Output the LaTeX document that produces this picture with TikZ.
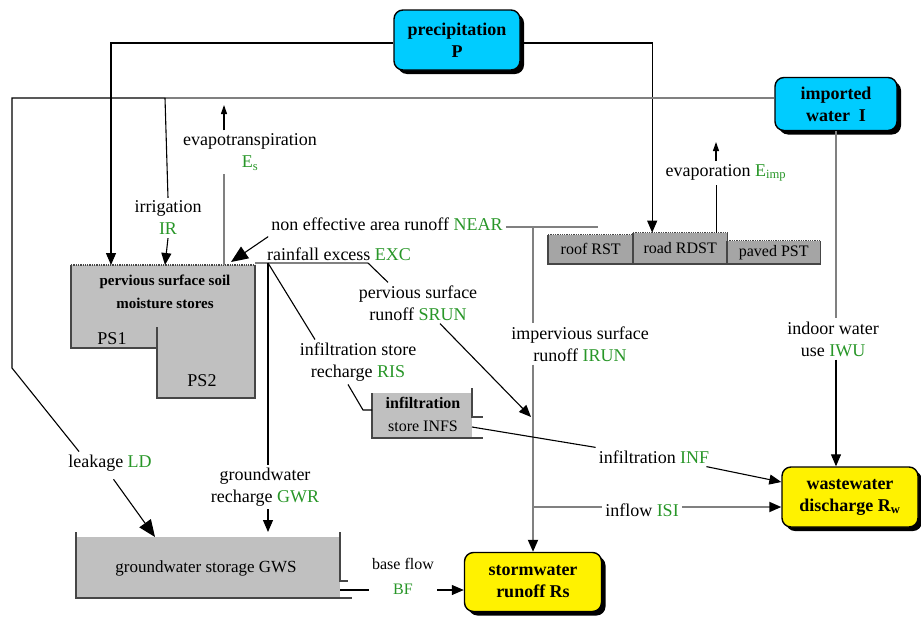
\documentclass[tikz,border=0pt]{standalone}
\usepackage{fontspec}
\setmainfont{Liberation Serif}
\usepackage{xcolor}
\usetikzlibrary{arrows.meta,shadows,positioning}
\definecolor{skyblue}{RGB}{0,204,255}
\definecolor{fluxgreen}{RGB}{40,150,40}
\definecolor{storegray}{RGB}{192,192,192}
\definecolor{roofgray}{RGB}{165,165,165}
\definecolor{pipegray}{RGB}{128,128,128}
\definecolor{edgegray}{RGB}{70,70,70}
\newcommand{\flux}[1]{\textcolor{fluxgreen}{#1}}

\begin{document}
\begin{tikzpicture}[x=1pt,y=-1pt,font=\fontsize{18}{22}\selectfont]
      \tikzstyle{source} = [draw, line width=1.4pt, rounded corners=9pt, fill=skyblue, align=center, font=\fontsize{18}{22}\selectfont\bfseries, drop shadow={shadow xshift=4pt, shadow yshift=-4pt, fill=black, opacity=1}]
      \tikzstyle{sink} = [source, fill=yellow]
      \tikzstyle{flow} = [align=center, inner sep=3pt]
      \tikzstyle{store} = [fill=roofgray, inner sep=0pt, anchor=south west, font=\fontsize{16}{18}\selectfont]
      \tikzstyle{wall} = [draw=edgegray, line width=1.3pt]
      \tikzstyle{pipe} = [draw=black, line width=1.1pt]
      \tikzstyle{gpipe} = [draw=pipegray, line width=1.8pt]
      \tikzstyle{tip} = [-{Triangle[length=12pt,width=10pt,color=black]}]
      \tikzstyle{smalltip} = [-{Triangle[length=9pt,width=6pt,color=black]}]
      \tikzstyle{bigtip} = [-{Triangle[length=17pt,width=14pt,color=black]}]

      \useasboundingbox (0,0) rectangle (921,616);

      % tanks
      \fill[storegray] (71,265) -- (255,265) -- (255,398) -- (157,398) -- (157,348) -- (71,348) -- cycle;
      \draw[wall] (71,265) -- (71,348) -- (157,348) -- (157,398) -- (255,398) -- (255,265);
      \draw[wall] (157,327) -- (157,348);
      \draw[wall, densely dotted] (71,265) -- (255,265);
      \fill[storegray] (76,537) rectangle (340,598);
      \draw[wall] (76,532) -- (76,598) -- (352,598);
      \draw[wall] (340,532) -- (340,581) -- (348,581);
      \fill[storegray] (372,393) rectangle (472,438);
      \draw[wall] (372,393) -- (372,438) -- (483,438);
      \draw[wall] (472,388) -- (472,417) -- (483,417);

      \node[source, minimum width=126pt, minimum height=60pt] (prec) at (457,40) {precipitation\\P};
      \node[source, minimum width=122pt, minimum height=53pt] (imp) at (836,104) {imported\\water\ \ I};
      \node[sink, minimum width=137pt, minimum height=59pt] (storm) at (533,582) {stormwater\\runoff Rs};
      \node[sink, minimum width=136pt, minimum height=60pt] (waste) at (850,497) {wastewater\\discharge R\textsubscript{w}};

      \node[store, minimum width=85pt, minimum height=29pt] (roof) at (548,264) {roof RST};
      \node[store, minimum width=94pt, minimum height=31pt] (road) at (633,264) {road RDST};
      \node[store, minimum width=93pt, minimum height=23pt] (paved) at (727,264) {paved PST};
      \foreach \b in {roof,road,paved} {
        \draw[wall] (\b.north west) -- (\b.south west) -- (\b.south east) -- (\b.north east);
        \draw[wall, densely dotted] (\b.north west) -- (\b.north east);
      }

      \node[align=center, font=\fontsize{15}{23}\selectfont\bfseries] (ps) at (165,292) {pervious surface soil\\moisture stores};
      \node (ps1) at (112,339) {PS1};
      \node (ps2) at (202,381) {PS2};
      \node[font=\fontsize{17}{20}\selectfont] (gws) at (206,568) {groundwater storage GWS};
      \node[align=center, font=\fontsize{16}{23}\selectfont] (infs) at (423,414) {{\bfseries infiltration}\\store INFS};

      \node[flow] (evt) at (250,152) {evapotranspiration\\\flux{E\textsubscript{s}}};
      \node[flow] (irr) at (168,218) {irrigation\\\flux{IR}};
      \node[flow] (near) at (387,224) {non effective area runoff \flux{NEAR}};
      \node[flow] (exc) at (339,254) {rainfall excess \flux{EXC}};
      \node[flow] (srun) at (418,303) {pervious surface\\runoff \flux{SRUN}};
      \node[flow] (ris) at (358,362) {infiltration store\\recharge \flux{RIS}};
      \node[flow] (irun) at (580,344) {impervious surface\\runoff \flux{IRUN}};
      \node[flow] (iwu) at (833,339) {indoor water\\use \flux{IWU}};
      \node[flow] (evp) at (726,173) {evaporation \flux{E\textsubscript{imp}}};
      \node[flow] (inf) at (654,457) {infiltration \flux{INF}};
      \node[flow] (isi) at (642,510) {inflow \flux{ISI}};
      \node[flow] (leak) at (110,463) {leakage \flux{LD}};
      \node[flow] (gwr) at (265,487) {groundwater\\recharge \flux{GWR}};
      \node[flow, font=\fontsize{16}{25}\selectfont] (bf) at (403,576) {base flow\\\flux{BF}};

      \coordinate (pIn) at (111,265);
      \coordinate (irIn) at (165,265);
      \coordinate (etIn) at (224,265);
      \coordinate (nearIn) at (231,262);
      \coordinate (psNE) at (255,263);
      \coordinate (gwrJ) at (268,263);
      \coordinate (excJ) at (368,263);
      \coordinate (irrJ) at (165,98);
      \coordinate (etOut) at (224,105);
      \coordinate (evOut) at (716,142);
      \coordinate (nearJ) at (533,227);
      \coordinate (nearEnd) at (598,227);
      \coordinate (srunIn) at (531,417);
      \coordinate (isiJ) at (533,507);
      \coordinate (infsIn) at (372,410);
      \coordinate (infsOut) at (472,427);
      \coordinate (gwsIn) at (155,537);
      \coordinate (gwrIn) at (268,532);
      \coordinate (gwsOut) at (340,590);

      % precipitation and imported water
      \draw[pipe, tip] ([yshift=-3pt]prec.west) -| (pIn);
      \draw[pipe, tip] ([yshift=-3pt]prec.east) -| ([xshift=-28pt]road.north);
      \draw[gpipe] ([yshift=6pt]imp.west) -- (irrJ);
      \draw[pipe] (irrJ) -- (12,98) -- (12,368) -- ([xshift=14pt]leak.north west);
      \draw[pipe, bigtip, shorten <=6pt] (leak.south) -- (gwsIn);
      \draw[pipe] (irrJ) -- (irr.north);
      \draw[pipe, tip] (irr.south) -- (irIn);
      \draw[gpipe] (imp.south) -- (imp.south |- iwu.north);
      \draw[pipe, tip] (imp.south |- iwu.south) -- (imp.south |- waste.north);
      % evaporation
      \draw[gpipe] (etIn) -- (etIn |- evt.south);
      \draw[pipe, smalltip] (etOut |- evt.north) -- (etOut);
      \draw[pipe] ([xshift=36pt]road.north) -- ([xshift=36pt]road.north |- evp.south);
      \draw[pipe, smalltip] (evOut |- evp.north) -- (evOut);
      % surface runoff
      \draw[pipe, bigtip] ([yshift=-3pt]near.south west) -- (nearIn);
      \draw[gpipe] (near.east |- nearJ) -- (nearEnd);
      \draw[gpipe] (nearJ) -- (nearJ |- irun.north);
      \draw[gpipe, tip] (nearJ |- irun.south) -- (storm.north);
      \draw[gpipe] (psNE) -- (excJ);
      \draw[pipe] (excJ) -- ([xshift=-30pt]srun.north);
      \draw[pipe, tip] ([xshift=22pt]srun.south) -- (srunIn);
      % infiltration and groundwater
      \draw[pipe] (gwrJ) -- ([xshift=-43pt]ris.north);
      \draw[pipe] ([xshift=-10pt]ris.south) -- (363,410) -- (infsIn);
      \draw[pipe] (gwrJ) -- (gwrJ |- gwr.north);
      \draw[pipe, tip] (gwrJ |- gwr.south) -- (gwrIn);
      \draw[pipe] (infsOut) -- (inf.north west);
      \draw[pipe, tip] ([xshift=-6pt]inf.south east) -- ([yshift=15pt]waste.west);
      \draw[gpipe] (isiJ) -- (isi.west |- isiJ);
      \draw[gpipe, tip] (isi.east |- isiJ) -- ([yshift=-10pt]waste.west);
      \draw[pipe] (gwsOut) -- (gwsOut -| bf.west);
      \draw[pipe, tip] (bf.east |- gwsOut) -- ([yshift=-8pt]storm.west);
    \end{tikzpicture}
\end{document}
